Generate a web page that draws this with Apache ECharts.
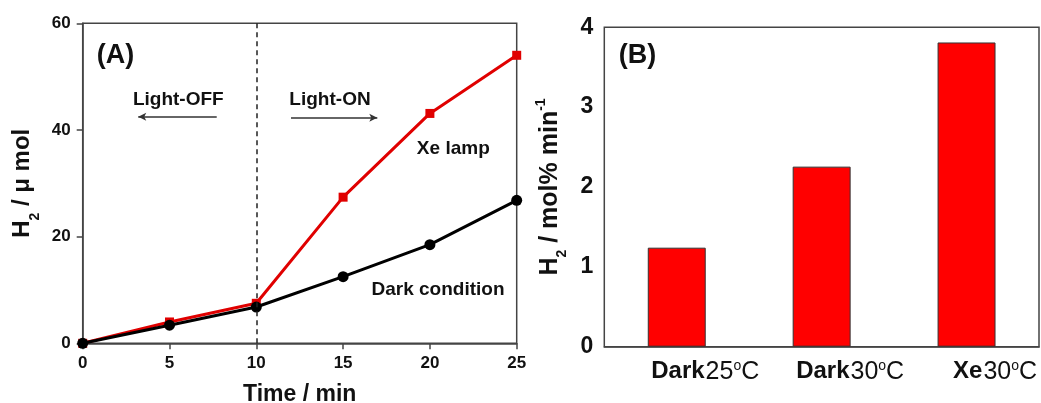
<!DOCTYPE html>
<html>
<head>
<meta charset="utf-8">
<script src="https://cdn.jsdelivr.net/npm/echarts@6/dist/echarts.min.js"></script>
<style>
  html, body { margin: 0; padding: 0; background: #fff; }
  #chart { width: 1041px; height: 403px; }
</style>
</head>
<body>
<div id="chart"></div>
<script>
// Panel A: H2 evolution over time
const timeMin = [0, 5, 10, 15, 20, 25];
const xeLamp = [0, 4.0, 7.5, 27.4, 43.1, 54.0];
const darkCondition = [0, 3.4, 6.8, 12.5, 18.5, 26.8];

// Panel B: H2 production rate by condition
const rateCategories = ['Dark|25', 'Dark|30', 'Xe|30'];
const rateValues = [1.24, 2.255, 3.81];

const FONT = '"Liberation Sans", Arial, sans-serif';
const INK = '#111';
const AXIS = '#444';

const chart = echarts.init(document.getElementById('chart'), null, { renderer: 'canvas' });

function pairs(xs, ys) { return xs.map((x, i) => [x, ys[i]]); }
function bold(size) { return { color: INK, fontFamily: FONT, fontWeight: 'bold', fontSize: size }; }

const axisLine = { lineStyle: { color: AXIS, width: 1.5 } };
const axisTick = { inside: false, length: 6, lineStyle: { color: AXIS, width: 1.5 } };

const option = {
  backgroundColor: '#fff',
  animation: false,
  grid: [
    { left: 82.7, top: 23.3, width: 434, height: 320, outerBoundsMode: 'none', containLabel: false,
      show: true, borderColor: AXIS, borderWidth: 1.5, backgroundColor: 'transparent' },
    { left: 604.3, top: 27.3, width: 434.7, height: 319.4, outerBoundsMode: 'none', containLabel: false,
      show: true, borderColor: AXIS, borderWidth: 1.5, backgroundColor: 'transparent' }
  ],
  xAxis: [
    {
      gridIndex: 0, type: 'value', min: 0, max: 25, interval: 5,
      name: 'Time / min', nameLocation: 'middle', nameGap: 40,
      nameTextStyle: bold(23),
      axisLine: axisLine, axisTick: axisTick,
      axisLabel: Object.assign({ margin: 12 }, bold(17)),
      splitLine: { show: false }
    },
    {
      gridIndex: 1, type: 'category', data: rateCategories,
      axisLine: axisLine, axisTick: Object.assign({ alignWithLabel: true }, axisTick),
      axisLabel: {
        margin: 12, interval: 0, padding: [0, 0, 0, 57],
        formatter: function (v) {
          const p = v.split('|');
          return '{w|' + p[0] + '}{n|' + p[1] + '}{sup|o}{n|C}';
        },
        rich: {
          w: { color: INK, fontFamily: FONT, fontWeight: 'bold', fontSize: 24, padding: [0, 1, 0, 0] },
          n: { color: INK, fontFamily: FONT, fontWeight: 'normal', fontSize: 25 },
          sup: { color: INK, fontFamily: FONT, fontSize: 14, verticalAlign: 'top', padding: [0, 0, 12, 0] }
        }
      },
      splitLine: { show: false }
    }
  ],
  yAxis: [
    {
      gridIndex: 0, type: 'value', min: 0, max: 60, interval: 20,
      name: '{m|H}{s|2}{m| / μ mol}', nameLocation: 'middle', nameGap: 48, nameRotate: 90,
      nameTextStyle: {
        rich: {
          m: { color: INK, fontFamily: FONT, fontWeight: 'bold', fontSize: 24, verticalAlign: 'bottom', lineHeight: 28 },
          s: { color: INK, fontFamily: FONT, fontWeight: 'bold', fontSize: 14, verticalAlign: 'bottom', lineHeight: 28, padding: [0, 0, -7, 0] }
        }
      },
      axisLine: axisLine, axisTick: axisTick,
      axisLabel: Object.assign({ margin: 12 }, bold(17)),
      splitLine: { show: false }
    },
    {
      gridIndex: 1, type: 'value', min: 0, max: 4, interval: 1,
      name: '{m|H}{s|2}{m| / mol% min}{p|-1}', nameLocation: 'middle', nameGap: 42, nameRotate: 90,
      nameTextStyle: {
        rich: {
          m: { color: INK, fontFamily: FONT, fontWeight: 'bold', fontSize: 25, verticalAlign: 'bottom', lineHeight: 28 },
          s: { color: INK, fontFamily: FONT, fontWeight: 'bold', fontSize: 14, verticalAlign: 'bottom', lineHeight: 28, padding: [0, 0, -7, 0] },
          p: { color: INK, fontFamily: FONT, fontWeight: 'bold', fontSize: 14, verticalAlign: 'top', lineHeight: 28, padding: [0, 0, 14, 0] }
        }
      },
      axisLine: axisLine, axisTick: axisTick,
      axisLabel: Object.assign({ margin: 11 }, bold(23)),
      splitLine: { show: false }
    }
  ],
  series: [
    {
      name: 'Xe lamp', type: 'line', xAxisIndex: 0, yAxisIndex: 0,
      data: pairs(timeMin, xeLamp),
      symbol: 'rect', symbolSize: 9, showAllSymbol: true,
      lineStyle: { color: '#e00000', width: 3 },
      itemStyle: { color: '#e00000' },
      z: 3,
      markLine: {
        silent: true, symbol: ['none', 'none'], label: { show: false },
        lineStyle: { color: '#222', type: [5, 4], width: 1.5 },
        data: [{ xAxis: 10 }]
      }
    },
    {
      name: 'Dark condition', type: 'line', xAxisIndex: 0, yAxisIndex: 0,
      data: pairs(timeMin, darkCondition),
      symbol: 'circle', symbolSize: 11, showAllSymbol: true,
      lineStyle: { color: '#000', width: 3 },
      itemStyle: { color: '#000' },
      z: 4,
      markLine: {
        silent: true, symbol: ['none', 'arrow'], symbolSize: [6, 8], label: { show: false },
        lineStyle: { color: '#333', type: 'solid', width: 1.5 },
        data: [
          [{ coord: [7.72, 42.5] }, { coord: [3.2, 42.5] }],
          [{ coord: [12.0, 42.3] }, { coord: [16.97, 42.3] }]
        ]
      }
    },
    {
      name: 'Rate', type: 'bar', xAxisIndex: 1, yAxisIndex: 1,
      data: rateValues, barWidth: '40%',
      itemStyle: { color: '#ff0000', borderColor: '#333', borderWidth: 1 }
    }
  ],
  graphic: [
    { type: 'text', x: 115.5, y: 56, style: { text: '(A)', fill: INK, font: 'bold 27px ' + FONT, align: 'center', verticalAlign: 'middle' } },
    { type: 'text', x: 637.5, y: 56, style: { text: '(B)', fill: INK, font: 'bold 27px ' + FONT, align: 'center', verticalAlign: 'middle' } },
    { type: 'text', x: 178.3, y: 100, style: { text: 'Light-OFF', fill: INK, font: 'bold 19px ' + FONT, align: 'center', verticalAlign: 'middle' } },
    { type: 'text', x: 330, y: 100, style: { text: 'Light-ON', fill: INK, font: 'bold 19px ' + FONT, align: 'center', verticalAlign: 'middle' } },
    { type: 'text', x: 453.3, y: 149, style: { text: 'Xe lamp', fill: INK, font: 'bold 19px ' + FONT, align: 'center', verticalAlign: 'middle' } },
    { type: 'text', x: 438, y: 290, style: { text: 'Dark condition', fill: INK, font: 'bold 19px ' + FONT, align: 'center', verticalAlign: 'middle' } }
  ]
};

chart.setOption(option);
</script>
</body>
</html>
